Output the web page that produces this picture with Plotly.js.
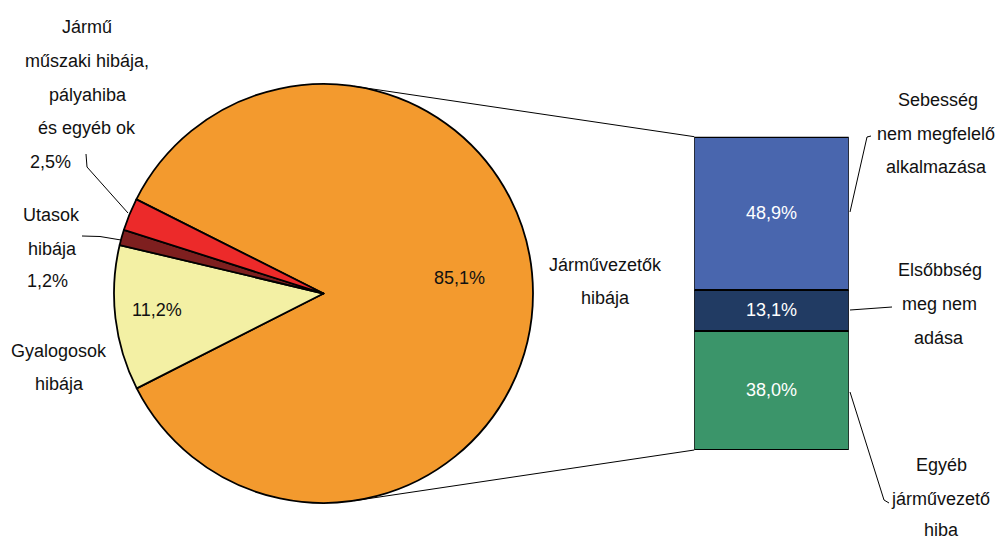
<!DOCTYPE html>
<html>
<head>
<meta charset="utf-8">
<script src="https://cdn.plot.ly/plotly-3.0.1.min.js"></script>
<style>html,body{margin:0;padding:0;background:#fff;}#chart{width:998px;height:541px;}</style>
</head>
<body>
<div id="chart"></div>
<script>
// ---- data ----
var pieCategories = ["Járművezetők hibája", "Gyalogosok hibája", "Utasok hibája", "Jármű műszaki hibája, pályahiba és egyéb ok"];
var pieValues = [85.1, 11.2, 1.2, 2.5];
var pieColors = ["#F39A2E", "#F3F0A4", "#7E1F1F", "#EC2A2A"];

var barCategories = ["Egyéb járművezető hiba", "Elsőbbség meg nem adása", "Sebesség nem megfelelő alkalmazása"];
var barValues = [38.0, 13.1, 48.9];
var barColors = ["#3B956A", "#213B63", "#4966AE"];

var pieLabelLines = [["Járművezetők", "hibája"], ["Gyalogosok", "hibája"], ["Utasok", "hibája"], ["Jármű", "műszaki hibája,", "pályahiba", "és egyéb ok"]];
var barLabelLines = [["Egyéb", "járművezető", "hiba"], ["Elsőbbség", "meg nem", "adása"], ["Sebesség", "nem megfelelő", "alkalmazása"]];

// ---- layout constants (pixels) ----
var W = 998, H = 541;
var FONT = "Liberation Sans, Arial, sans-serif";
var cx = 323.5, cy = 293.5, R = 209.5;
var barLeft = 694.3, barRight = 848.7, barTop = 136.7, barBottom = 450;

function px(x) { return x / W; }
function py(y) { return 1 - y / H; }
function fmt(v) { return v.toFixed(1).replace('.', ',') + '%'; }

// label positions (pixels) for each line; percentage shown as an extra line where outside
var pieLabelPos = [
  [[605, 265], [605, 298]],
  [[59, 351], [59, 384]],
  [[51, 215], [52, 249], [47, 281]],
  [[87, 27], [86.5, 61], [88, 95], [87, 128], [50, 162]]
];
var pieInsidePos = [[459, 278], [156.5, 310], null, null];
var barLabelPos = [
  [[941, 465], [940, 499], [941, 529.5]],
  [[939.5, 270], [939, 304], [939, 338]],
  [[937.5, 100], [936, 134], [936, 167]]
];

var annotations = [];
function addText(t, p, color) {
  annotations.push({
    text: t, x: px(p[0]), y: py(p[1]), xref: 'paper', yref: 'paper',
    xanchor: 'center', yanchor: 'middle', showarrow: false,
    font: {family: FONT, size: 18, color: color || '#111'}
  });
}
pieLabelLines.forEach(function (lines, i) {
  var pos = pieLabelPos[i];
  var all = lines.slice();
  if (!pieInsidePos[i]) all.push(fmt(pieValues[i]));
  all.forEach(function (t, j) { addText(t, pos[j]); });
  if (pieInsidePos[i]) addText(fmt(pieValues[i]), pieInsidePos[i]);
});
barLabelLines.forEach(function (lines, i) {
  lines.forEach(function (t, j) { addText(t, barLabelPos[i][j]); });
});

// tangent points for connector lines
function tangent(tx, ty, upper) {
  var dx = tx - cx, dy = cy - ty;
  var d = Math.sqrt(dx * dx + dy * dy);
  var a = Math.atan2(dy, dx);
  var off = Math.acos(R / d);
  var ang = upper ? a + off : a - off;
  return [cx + R * Math.cos(ang), cy - R * Math.sin(ang)];
}
function pathOf(pts) {
  return pts.map(function (p, i) { return (i ? 'L' : 'M') + px(p[0]) + ',' + py(p[1]); }).join(' ');
}
var t1 = tangent(barLeft, barTop, true);
var t2 = tangent(barLeft, barBottom, false);
var lineStyle = {color: '#000', width: 1};
var shapes = [
  {type: 'path', xref: 'paper', yref: 'paper', path: pathOf([t1, [barLeft, barTop]]), line: lineStyle},
  {type: 'path', xref: 'paper', yref: 'paper', path: pathOf([t2, [barLeft, barBottom]]), line: lineStyle},
  {type: 'path', xref: 'paper', yref: 'paper', path: pathOf([[86, 154], [87, 167], [128, 213]]), line: lineStyle},
  {type: 'path', xref: 'paper', yref: 'paper', path: pathOf([[82, 236], [100, 236.5], [121, 240]]), line: lineStyle},
  {type: 'path', xref: 'paper', yref: 'paper', path: pathOf([[850, 212], [867, 137], [871, 136]]), line: lineStyle},
  {type: 'path', xref: 'paper', yref: 'paper', path: pathOf([[850, 310], [892, 307]]), line: lineStyle},
  {type: 'path', xref: 'paper', yref: 'paper', path: pathOf([[850, 392], [884, 500], [889, 503]]), line: lineStyle}
];

var traces = [{
  type: 'pie',
  labels: pieCategories,
  values: pieValues,
  marker: {colors: pieColors, line: {color: '#000', width: 1.8}},
  sort: false,
  direction: 'clockwise',
  rotation: -63.3,
  textinfo: 'none',
  hoverinfo: 'label+percent',
  domain: {x: [px(cx - R), px(cx + R)], y: [py(cy + R), py(cy - R)]}
}];
barCategories.forEach(function (c, i) {
  traces.push({
    type: 'bar',
    x: ['Járművezetők hibája'],
    y: [barValues[i]],
    name: c,
    width: [1],
    marker: {color: barColors[i], line: {color: '#000', width: 2}},
    texttemplate: '%{y:.1f}%',
    textposition: 'inside',
    insidetextanchor: 'middle',
    textangle: 0,
    textfont: {family: FONT, size: 18, color: '#fff'},
    xaxis: 'x', yaxis: 'y'
  });
});

var layout = {
  width: W, height: H,
  margin: {l: 0, r: 0, t: 0, b: 0},
  paper_bgcolor: '#fff', plot_bgcolor: 'rgba(0,0,0,0)',
  showlegend: false,
  separators: ', ',
  barmode: 'stack',
  xaxis: {domain: [px(barLeft), px(barRight)], range: [-0.5, 0.5], visible: false, fixedrange: true},
  yaxis: {domain: [py(barBottom), py(barTop)], range: [0, 100], visible: false, fixedrange: true},
  annotations: annotations,
  shapes: shapes,
  font: {family: FONT}
};

Plotly.newPlot('chart', traces, layout, {displayModeBar: false, staticPlot: true});
</script>
</body>
</html>
